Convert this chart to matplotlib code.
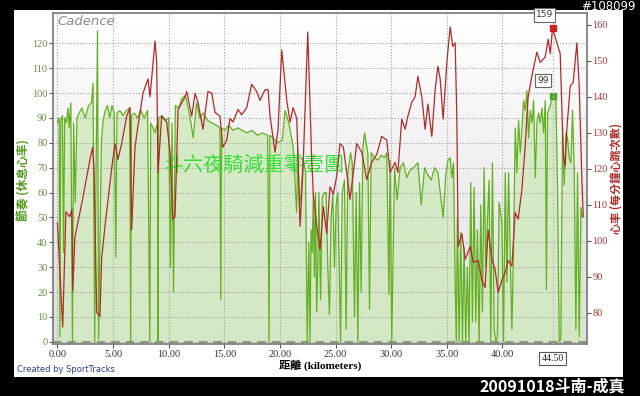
import numpy as np
import matplotlib
matplotlib.use("Agg")
import matplotlib.pyplot as plt
from matplotlib.patches import Rectangle

plt.rcParams['font.family'] = ['Noto Sans CJK TC', 'DejaVu Sans']

# cadence (rpm) vs distance (km)
cad_km = [0.00, 0.15, 0.22, 0.30, 0.45, 0.55, 0.65, 0.80, 0.95, 1.05, 1.20, 1.35, 1.45, 1.60, 1.75,
          1.95, 2.20, 2.50, 2.80, 3.05, 3.20, 3.35, 3.45, 3.60, 3.70, 3.82, 3.95, 4.10, 4.30, 4.50,
          4.70, 4.90, 5.10, 5.25, 5.35, 5.60, 5.90, 6.20, 6.50, 6.58, 6.65, 6.90, 7.20, 7.50, 7.80,
          8.10, 8.30, 8.38, 8.60, 8.75, 9.00, 9.04, 9.10, 9.40, 9.70, 10.00, 10.15, 10.30, 10.43, 10.60,
          10.90, 11.20, 11.50, 11.80, 12.00, 12.20, 12.50, 12.80, 13.10, 13.50, 13.90, 14.30, 14.60, 14.68, 14.75,
          15.00, 15.40, 15.80, 16.20, 16.60, 17.00, 17.50, 18.00, 18.40, 18.90, 19.02, 19.10, 19.40, 19.80, 20.20,
          20.46, 20.80, 21.20, 21.40, 21.50, 21.60, 21.75, 21.90, 22.10, 22.30, 22.45, 22.60, 22.70, 22.80, 22.90,
          23.00, 23.10, 23.20, 23.30, 23.40, 23.50, 23.65, 23.80, 24.00, 24.15, 24.30, 24.45, 24.60, 24.75, 24.90,
          25.05, 25.20, 25.35, 25.45, 25.60, 25.80, 25.95, 26.10, 26.35, 26.50, 26.70, 26.85, 27.00, 27.15, 27.30,
          27.45, 27.60, 27.75, 27.90, 28.05, 28.20, 28.50, 28.80, 29.10, 29.40, 29.60, 29.80, 29.90, 30.05, 30.30,
          30.53, 30.80, 31.10, 31.40, 31.70, 32.00, 32.40, 32.70, 33.00, 33.30, 33.60, 33.90, 34.20, 34.67, 34.90,
          35.10, 35.30, 35.45, 35.60, 35.75, 35.85, 35.95, 36.10, 36.25, 36.40, 36.55, 36.70, 36.85, 37.00, 37.15,
          37.30, 37.45, 37.60, 37.75, 37.90, 38.05, 38.20, 38.35, 38.50, 38.65, 38.80, 38.95, 39.10, 39.25, 39.40,
          39.55, 39.70, 39.95, 40.10, 40.25, 40.40, 40.55, 40.70, 40.85, 41.00, 41.15, 41.30, 41.45, 41.60, 41.75,
          41.90, 42.05, 42.20, 42.35, 42.50, 42.65, 42.80, 42.95, 43.10, 43.25, 43.40, 43.55, 43.70, 43.85, 43.95,
          44.05, 44.30, 44.50, 44.65, 44.80, 44.95, 45.10, 45.25, 45.40, 45.55, 45.70, 45.85, 46.00, 46.15, 46.30,
          46.45, 46.60, 46.75, 46.90, 47.05, 47.20]
cadence = [88, 90, 2, 89, 91, 36, 90, 88, 94, 86, 96, 0, 88, 56, 90,
           92, 94, 90, 95, 96, 104, 0, 60, 125, 1, 40, 80, 89, 93, 95,
           90, 95, 92, 34, 92, 93, 91, 93, 94, 0, 91, 92, 90, 93, 90,
           93, 0, 88, 86, 84, 88, 0, 90, 91, 89, 90, 30, 88, 20, 95,
           94, 98, 99, 93, 88, 82, 96, 90, 92, 89, 88, 87, 86, 17, 86,
           85, 87, 85, 86, 85, 84, 85, 83, 84, 83, 0, 83, 82, 80, 81,
           93, 88, 78, 60, 52, 78, 55, 60, 74, 68, 0, 40, 0, 45, 36,
           60, 26, 60, 12, 30, 60, 17, 58, 60, 60, 30, 11, 50, 60, 30,
           55, 60, 23, 0, 60, 65, 5, 68, 76, 72, 10, 60, 0, 64, 20,
           78, 84, 80, 76, 13, 76, 74, 73, 75, 74, 76, 19, 73, 0, 70,
           57, 70, 72, 66, 69, 70, 72, 55, 70, 67, 65, 70, 68, 50, 67,
           73, 74, 66, 72, 24, 0, 50, 0, 44, 0, 38, 0, 30, 0, 64,
           8, 62, 8, 45, 0, 55, 12, 70, 30, 49, 65, 0, 72, 5, 0,
           2, 56, 48, 0, 68, 24, 68, 34, 5, 38, 86, 68, 89, 76, 86,
           97, 93, 101, 82, 93, 88, 97, 66, 88, 92, 88, 94, 84, 97, 21,
           92, 95, 99, 98, 99, 62, 0, 1, 86, 63, 84, 82, 74, 72, 93,
           70, 5, 68, 2, 54, 50]

# heart rate (bpm) vs distance (km)
hr_km = [0.00, 0.47, 0.76, 1.12, 1.30, 1.37, 1.57, 2.29, 2.92, 3.17, 3.28, 3.53, 3.82, 3.97, 4.27,
         4.87, 5.17, 5.44, 5.77, 6.22, 6.52, 6.67, 6.97, 7.24, 7.69, 8.14, 8.32, 8.77, 8.92, 9.04,
         9.37, 9.82, 10.12, 10.36, 10.57, 10.84, 11.47, 11.62, 12.07, 12.37, 12.63, 13.08, 13.53, 13.87, 14.16,
         14.61, 14.86, 15.22, 15.51, 15.78, 16.23, 16.56, 17.01, 17.46, 17.91, 18.21, 18.66, 18.93, 19.11, 19.56,
         19.83, 20.16, 20.61, 20.91, 21.18, 21.51, 21.81, 22.08, 22.50, 22.86, 23.00, 23.30, 23.60, 23.90, 24.20,
         24.50, 24.80, 25.10, 25.40, 25.70, 26.00, 26.30, 26.60, 26.90, 27.35, 27.80, 28.25, 28.70, 29.15, 29.60,
         29.90, 30.35, 30.60, 30.95, 31.25, 31.50, 31.85, 32.15, 32.40, 32.75, 33.05, 33.30, 33.65, 33.95, 34.20,
         34.40, 34.67, 35.00, 35.30, 35.54, 35.75, 35.90, 36.02, 36.35, 36.65, 37.10, 37.37, 37.82, 38.15, 38.44,
         38.71, 39.05, 39.34, 39.61, 39.95, 40.24, 40.51, 40.85, 41.14, 41.41, 41.74, 42.04, 42.31, 42.64, 43.09,
         43.39, 43.84, 44.11, 44.30, 44.50, 44.70, 45.19, 45.46, 45.64, 45.79, 46.09, 46.36, 46.69, 46.90, 47.14,
         47.26]
heart_rate = [105, 76, 108, 106.7, 108.7, 86, 101, 112, 122.6, 126, 120, 80, 79, 95, 104,
              120, 127, 122.6, 127, 134.6, 137, 103, 126, 132, 141, 145, 140, 155.5, 149.6, 119,
              134.6, 133, 124.6, 106, 106.7, 136.5, 140, 141.5, 134.6, 141, 138.5, 131, 141.5, 141, 135.7,
              134.6, 126, 128, 134, 133, 136.5, 135, 137, 143.5, 141.5, 139, 142, 142, 134.6, 124.6,
              131, 153, 139, 133, 137, 134, 104, 120.7, 158, 122, 113, 104, 97.5, 109.5, 102,
              115, 113, 118, 127, 126, 119, 111.5, 119, 127, 124.6, 117, 121.8, 124, 129, 128,
              119, 121.8, 119, 133.8, 131, 134.6, 138.5, 140, 145.7, 140, 131, 138, 129, 142, 148.5,
              145, 133.8, 149.6, 159.4, 154, 155, 133.8, 98.4, 102, 94.8, 98.4, 94, 94.5, 89, 87,
              103, 94.8, 92, 85.6, 89, 91, 94.5, 93, 107.9, 106, 114, 126, 140, 145.7, 152.4,
              149.6, 151, 156, 152, 159, 157, 152, 124.6, 120.7, 131, 143, 144, 155, 143, 117,
              106.7]

marker_km = 44.5
marker_hr = 159
marker_cad = 99

x_ticks = [0, 5, 10, 15, 20, 25, 30, 35, 40]
cad_ticks = list(range(0, 121, 10))
hr_ticks = list(range(80, 161, 10))

fig = plt.figure(figsize=(6.4, 3.96), dpi=100, facecolor='black')

# white panel behind the chart
fig.patches.append(Rectangle((14 / 640, 1 - 377 / 396), 609 / 640, 367 / 396,
                             transform=fig.transFigure, facecolor='white', edgecolor='none', zorder=-10))

ax = fig.add_axes([53 / 640, 1 - 344 / 396, 534 / 640, 331 / 396])
ax.set_facecolor('white')
# soft grey gradient background
grad = np.linspace(0.87, 1.0, 256).reshape(-1, 1)
ax.imshow(grad, cmap='gray', vmin=0, vmax=1, aspect='auto', extent=(0, 1, 1, 0),
          transform=ax.transAxes, zorder=0)

ax.fill_between(cad_km, cadence, 0, color='#d3e9c2', alpha=0.9, lw=0, zorder=1)
ax.plot(cad_km, cadence, color='#62b020', lw=0.9, zorder=3)
ax.axhline(0, color='#8a9a7a', lw=1.5, ls=(0, (4, 3)), zorder=2)

ax.set_xlim(-0.4, 47.6)
ax.set_ylim(-0.9, 132.2)
ax.set_xticks(x_ticks)
ax.set_xticklabels(['%.2f' % v for v in x_ticks], family='Liberation Serif', fontsize=7.5, color='#333333')
ax.set_yticks(cad_ticks)
ax.set_yticklabels([str(v) for v in cad_ticks], family='Liberation Serif', fontsize=7.5, color='#6b8a45')
ax.grid(True, color='#a0a0a0', ls=':', lw=0.8)
ax.tick_params(axis='both', length=3, width=0.8, color='#555555', pad=1)
for s in ax.spines.values():
    s.set_color('#777777')
    s.set_linewidth(1.2)

ax2 = ax.twinx()
ax2.plot(hr_km, heart_rate, color='#b02a2a', lw=0.9, zorder=4)
ax2.set_ylim(71.3, 163.3)
ax2.set_yticks(hr_ticks)
ax2.set_yticklabels([str(v) for v in hr_ticks], family='Liberation Serif', fontsize=7.5, color='#a03535')
ax2.tick_params(axis='y', length=3, width=0.8, color='#555555', pad=1)
for s in ax2.spines.values():
    s.set_visible(False)

# highlighted point at 44.50 km
ax2.axvline(marker_km, color='#bbbbbb', ls=':', lw=1.0, zorder=3)
ax2.plot([marker_km], [marker_hr], marker='s', ms=4, color='#cc2222', zorder=6)
ax.plot([marker_km], [marker_cad], marker='s', ms=4, color='#44aa22', zorder=6)
box = dict(boxstyle='square,pad=0.25', fc='white', ec='#666666', lw=0.8)
ax2.annotate(str(marker_hr), (marker_km, marker_hr), xytext=(-12, 8), textcoords='offset points',
             fontsize=6.5, family='DejaVu Sans', color='#333333', bbox=box, zorder=7)
ax.annotate(str(marker_cad), (marker_km, marker_cad), xytext=(-11, 9), textcoords='offset points',
            fontsize=6.5, family='DejaVu Sans', color='#333333', bbox=box, zorder=7)
ax.annotate('%.2f' % marker_km, (marker_km, 0), xycoords=('data', 'axes fraction'), xytext=(-8, -12),
            textcoords='offset points', fontsize=7, family='Liberation Serif', color='#222222',
            bbox=dict(boxstyle='square,pad=0.2', fc='white', ec='#555555', lw=0.8), zorder=7,
            annotation_clip=False)

ax.text(0.008, 0.995, 'Cadence', transform=ax.transAxes, ha='left', va='top', fontsize=9.5,
        style='italic', color='#888888', family='DejaVu Sans', zorder=8)

ax.text(17.7, 71, '斗六夜騎減重零壹團', fontsize=14.5, color='#33e033', ha='center', va='center', zorder=8)

fig.text(24 / 640, 1 - 180 / 396, '節奏 (休息心率)', rotation=90, color='#4f9a1a', fontsize=8.5,
         fontweight='bold', ha='center', va='center')
fig.text(616 / 640, 1 - 178 / 396, '心率 (每分鐘心跳次數)', rotation=90, color='#b02a2a', fontsize=8,
         fontweight='bold', ha='center', va='center')
fig.text(320 / 640, 1 - 365 / 396, '距離 (kilometers)', color='black', fontsize=8, fontweight='bold',
         family=['Liberation Serif', 'Noto Sans CJK TC'], ha='center', va='center')
fig.text(17 / 640, 1 - 370 / 396, 'Created by SportTracks', color='#2a3f8f', fontsize=6, ha='left', va='center',
         family='DejaVu Sans')
fig.text(636 / 640, 1 - 6 / 396, '#108099', color='white', fontsize=8.5, ha='right', va='center',
         family='DejaVu Sans')
fig.text(625 / 640, 1 - 386 / 396, '20091018斗南-成真', color='white', fontsize=11.5, fontweight='bold',
         ha='right', va='center')

fig.savefig('out.png', dpi=100, facecolor='black')
